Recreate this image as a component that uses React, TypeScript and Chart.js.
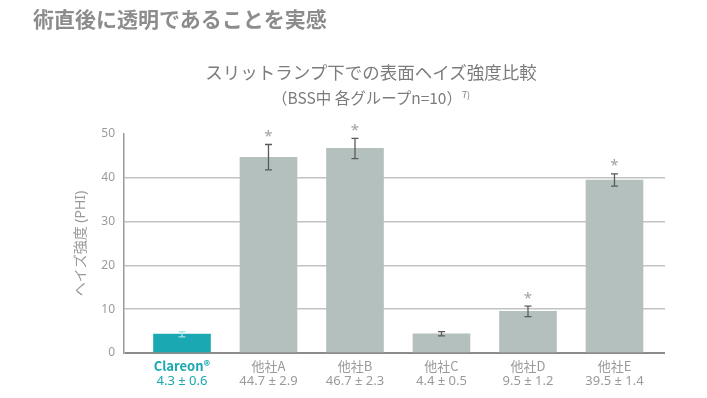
import React, { useEffect, useRef } from 'react';
import { Chart, registerables } from 'chart.js';

Chart.register(...registerables);

const categories = ['Clareon®', '他社A', '他社B', '他社C', '他社D', '他社E'];
const means = [4.3, 44.7, 46.7, 4.4, 9.5, 39.5];
const sds = [0.6, 2.9, 2.3, 0.5, 1.2, 1.4];
const significant = [false, true, true, false, true, true];
const yMin = 0;
const yMax = 50;
const yStep = 10;

const FONT = "'Noto Sans CJK JP', 'Noto Sans', sans-serif";
const LATIN_FONT = "'Noto Sans', 'Noto Sans CJK JP', sans-serif";
const TEAL = '#1aa9b3';
const GRAY_BAR = '#b4c0bd';
const LABEL_GRAY = '#9a9a9a';

const errorBarPlugin = {
  id: 'errorBars',
  afterDatasetsDraw(chart: any) {
    const { ctx, scales } = chart;
    const y = scales.y;
    const meta = chart.getDatasetMeta(0);
    ctx.save();
    meta.data.forEach((bar: any, i: number) => {
      const cx = bar.x;
      const top = y.getPixelForValue(means[i] + sds[i]);
      const bot = y.getPixelForValue(means[i] - sds[i]);
      ctx.strokeStyle = i === 0 ? '#a9e1e4' : '#5a5a5a';
      ctx.lineWidth = 1.3;
      ctx.beginPath();
      ctx.moveTo(cx, top);
      ctx.lineTo(cx, bot);
      ctx.moveTo(cx - 3.5, top);
      ctx.lineTo(cx + 3.5, top);
      ctx.moveTo(cx - 3.5, bot);
      ctx.lineTo(cx + 3.5, bot);
      ctx.stroke();
      if (significant[i]) {
        ctx.fillStyle = '#a0a0a0';
        ctx.font = `15px ${LATIN_FONT}`;
        ctx.textAlign = 'center';
        ctx.textBaseline = 'alphabetic';
        const m = ctx.measureText('*');
        const asc = m.actualBoundingBoxAscent || 10;
        const desc = m.actualBoundingBoxDescent || -5;
        const target = top - 11;
        ctx.fillText('*', cx, target + (asc - desc) / 2);
      }
    });
    ctx.restore();
  },
};

const xLabelPlugin = {
  id: 'xLabels',
  afterDraw(chart: any) {
    const { ctx, scales } = chart;
    const x = scales.x;
    const base = scales.y.getPixelForValue(yMin);
    ctx.save();
    ctx.textAlign = 'center';
    ctx.textBaseline = 'middle';
    categories.forEach((name, i) => {
      const cx = x.getPixelForValue(i);
      const first = i === 0;
      ctx.fillStyle = first ? TEAL : LABEL_GRAY;
      ctx.font = `${first ? 'bold ' : ''}13px ${FONT}`;
      ctx.fillText(name, cx, base + 13);
      ctx.font = `13px ${LATIN_FONT}`;
      ctx.fillText(`${means[i].toFixed(1)} ± ${sds[i].toFixed(1)}`, cx, base + 28);
    });
    ctx.restore();
  },
};

export default function App() {
  const canvasRef = useRef<HTMLCanvasElement | null>(null);

  useEffect(() => {
    if (!canvasRef.current) return;
    const chart = new Chart(canvasRef.current, {
      type: 'bar',
      data: {
        datasets: [
          {
            data: means.map((m, i) => ({ x: i, y: m })),
            backgroundColor: means.map((_, i) => (i === 0 ? TEAL : GRAY_BAR)),
            borderWidth: 0,
            barThickness: 57,
          } as any,
        ],
      },
      options: {
        animation: false,
        responsive: false,
        layout: { padding: { top: 134, right: 42, left: 0, bottom: 0 } },
        plugins: {
          legend: { display: false },
          tooltip: { enabled: false },
          title: { display: false },
        },
        scales: {
          x: {
            type: 'linear',
            min: -0.6705,
            max: 5.584,
            offset: false,
            grid: { display: false, offset: false },
            border: { display: false },
            ticks: { display: false },
            afterFit: (s: any) => {
              s.height = 45;
            },
          } as any,
          y: {
            min: yMin,
            max: yMax,
            ticks: {
              stepSize: yStep,
              color: LABEL_GRAY,
              font: { size: 12, family: LATIN_FONT },
              padding: 9,
            },
            grid: {
              drawTicks: false,
              color: (c: any) =>
                c.tick && c.tick.value === yMin
                  ? '#8c8c8c'
                  : c.tick && c.tick.value === yMax
                  ? 'rgba(0,0,0,0)'
                  : '#c2c2c2',
              lineWidth: (c: any) => (c.tick && c.tick.value === yMin ? 2 : 1.6),
            },
            border: { display: true, color: '#9a9a9a', width: 1.5 },
            title: {
              display: true,
              text: 'ヘイズ強度 (PHI)',
              color: LABEL_GRAY,
              font: { size: 14, family: LATIN_FONT },
              padding: { top: 73, bottom: 0 },
            },
            afterFit: (s: any) => {
              s.width = 124;
            },
          } as any,
        },
      },
      plugins: [errorBarPlugin, xLabelPlugin],
    });
    return () => chart.destroy();
  }, []);

  return (
    <div
      style={{
        position: 'fixed',
        left: 0,
        top: 0,
        width: 707,
        height: 398,
        background: '#ffffff',
        fontFamily: FONT,
      }}
    >
      <canvas
        ref={canvasRef}
        width={707}
        height={398}
        style={{ position: 'absolute', left: 0, top: 0, width: 707, height: 398 }}
      />
      <div
        style={{
          position: 'absolute',
          left: 33,
          top: 6,
          fontSize: 21,
          lineHeight: '24px',
          fontWeight: 'bold',
          color: '#8c8c8c',
          whiteSpace: 'nowrap',
        }}
      >
        術直後に透明であることを実感
      </div>
      <div
        style={{
          position: 'absolute',
          left: 171,
          top: 60,
          width: 400,
          textAlign: 'center',
          color: '#7c7c7c',
          whiteSpace: 'nowrap',
        }}
      >
        <div style={{ fontSize: 17.5, lineHeight: '24px' }}>スリットランプ下での表面ヘイズ強度比較</div>
        <div style={{ fontSize: 15.5, lineHeight: '22px' }}>
          （BSS中 各グループn=10）
          <sup style={{ fontSize: 9 }}>7)</sup>
        </div>
      </div>
    </div>
  );
}
